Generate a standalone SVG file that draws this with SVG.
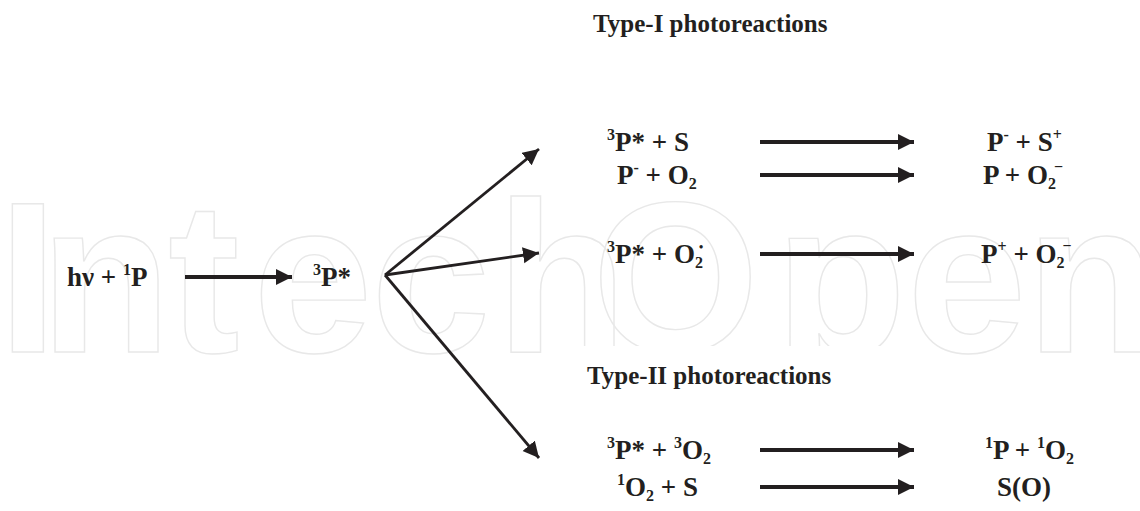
<svg xmlns="http://www.w3.org/2000/svg" width="1140" height="511" viewBox="0 0 1140 511">
<style>
.t{font-family:"Liberation Serif","Times New Roman",serif;font-weight:bold;font-size:27px;fill:#231f20}
.h{font-family:"Liberation Serif","Times New Roman",serif;font-weight:bold;font-size:25px;fill:#231f20}
.s{font-size:16px}
.d{font-size:12px}
.wm{font-family:"Liberation Sans",Arial,sans-serif;font-weight:bold;font-size:215px;fill:none;stroke:#e8e8e8;stroke-width:1.4}
.c{stroke:#231f20;stroke-width:3.8;fill:none}
.f{stroke:#231f20;stroke-width:2.8;fill:none}
</style>
<defs>
<marker id="ah" markerUnits="userSpaceOnUse" markerWidth="17" markerHeight="17" refX="16" refY="8" orient="auto" viewBox="0 0 17 17">
<path d="M0,0 L16,8 L0,16 z" fill="#231f20"/>
</marker>
</defs>
<rect width="1140" height="511" fill="#ffffff"/>
<g id="watermark">
<text class="wm" x="-2 40 168 253 371 496 592 775 907 1026" y="352">IntechOpen</text>
<rect x="545" y="346" width="360" height="60" fill="#ffffff"/>
</g>
<g id="connectors">
<line class="c" x1="185" y1="277" x2="292" y2="277" marker-end="url(#ah)"/>
<line class="f" x1="385" y1="275" x2="539" y2="149" marker-end="url(#ah)"/>
<line class="f" x1="385" y1="275" x2="539" y2="253" marker-end="url(#ah)"/>
<line class="f" x1="385" y1="275" x2="539" y2="458" marker-end="url(#ah)"/>
<line class="c" x1="760" y1="142" x2="914" y2="142" marker-end="url(#ah)"/>
<line class="c" x1="760" y1="175" x2="914" y2="175" marker-end="url(#ah)"/>
<line class="c" x1="760" y1="254" x2="914" y2="254" marker-end="url(#ah)"/>
<line class="c" x1="760" y1="450" x2="914" y2="450" marker-end="url(#ah)"/>
<line class="c" x1="760" y1="487" x2="914" y2="487" marker-end="url(#ah)"/>
</g>
<g id="title-type1"><text class="h" x="593" y="32">Type-I photoreactions</text></g>
<g id="title-type2"><text class="h" x="587" y="384">Type-II photoreactions</text></g>
<g id="node-hv1P"><text class="t" x="67" y="286">hν + <tspan class="s" dy="-11">1</tspan><tspan dy="11">P</tspan></text></g>
<g id="node-3P"><text class="t" x="313" y="286"><tspan class="s" dy="-11">3</tspan><tspan dy="11">P*</tspan></text></g>
<g id="node-r1-left"><text class="t" x="607" y="151"><tspan class="s" dy="-11">3</tspan><tspan dy="11">P* + S</tspan></text></g>
<g id="node-r1-right"><text class="t" x="987" y="151">P<tspan class="s" dy="-11">-</tspan><tspan dy="11"> + S</tspan><tspan class="s" dy="-11">+</tspan></text></g>
<g id="node-r2-left"><text class="t" x="617" y="184">P<tspan class="s" dy="-11">-</tspan><tspan dy="11"> + O</tspan><tspan class="s" dy="5">2</tspan></text></g>
<g id="node-r2-right"><text class="t" x="983" y="184">P + O<tspan class="s" dy="5">2</tspan><tspan class="s" dx="-2" dy="-17">−</tspan></text></g>
<g id="node-r3-left"><text class="t" x="607" y="263"><tspan class="s" dy="-11">3</tspan><tspan dy="11">P* + O</tspan><tspan class="s" dy="5">2</tspan><tspan class="d" dx="-4" dy="-17">•</tspan></text></g>
<g id="node-r3-right"><text class="t" x="981" y="263">P<tspan class="s" dy="-11">+</tspan><tspan dy="11"> + O</tspan><tspan class="s" dy="5">2</tspan><tspan class="s" dx="-2" dy="-17">−</tspan></text></g>
<g id="node-r4-left"><text class="t" x="607" y="459"><tspan class="s" dy="-11">3</tspan><tspan dy="11">P* + </tspan><tspan class="s" dy="-11">3</tspan><tspan dy="11">O</tspan><tspan class="s" dy="5">2</tspan></text></g>
<g id="node-r4-right"><text class="t" x="985" y="459"><tspan class="s" dy="-11">1</tspan><tspan dy="11">P + </tspan><tspan class="s" dy="-11">1</tspan><tspan dy="11">O</tspan><tspan class="s" dy="5">2</tspan></text></g>
<g id="node-r5-left"><text class="t" x="617" y="496"><tspan class="s" dy="-11">1</tspan><tspan dy="11">O</tspan><tspan class="s" dy="5">2</tspan><tspan dy="-5"> + S</tspan></text></g>
<g id="node-r5-right"><text class="t" x="997" y="496">S(O)</text></g>
</svg>
